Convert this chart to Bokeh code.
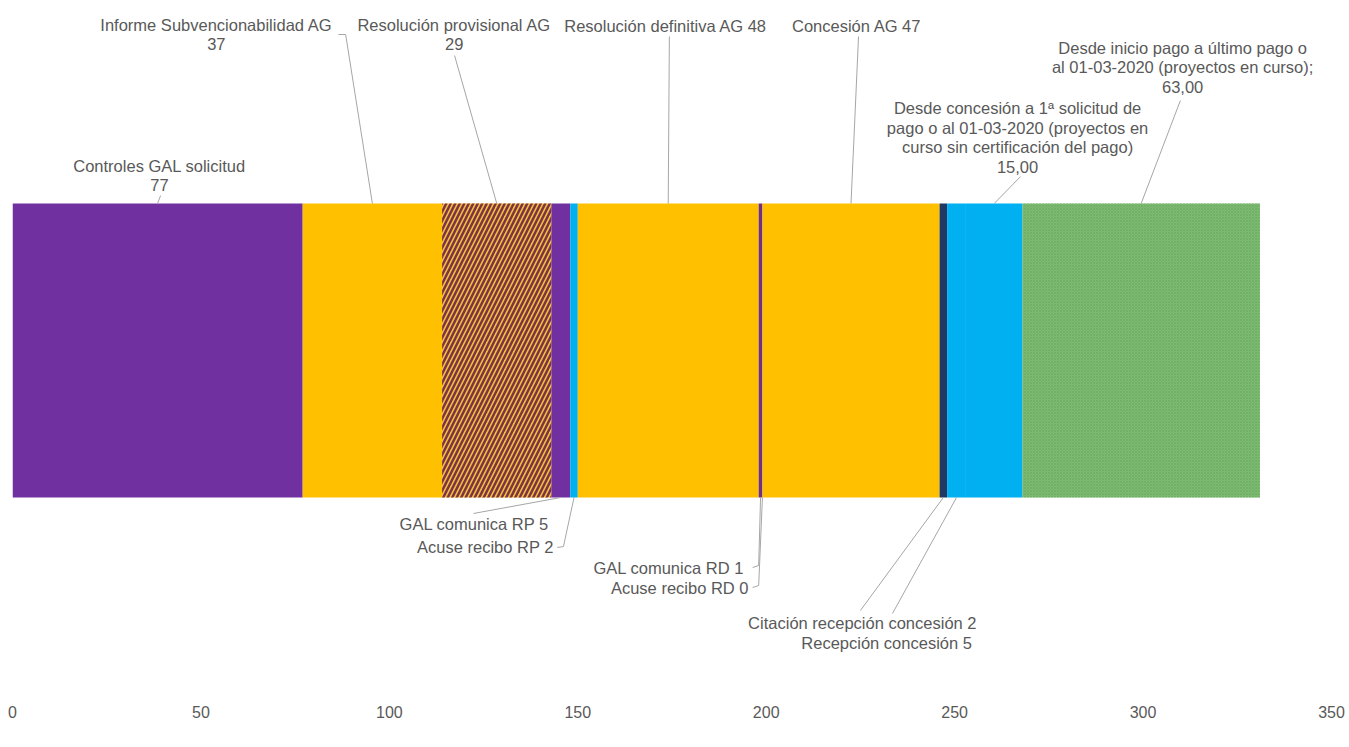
from bokeh.plotting import figure
from bokeh.models import Range1d, FixedTicker, ColumnDataSource
from bokeh.core.properties import value
from bokeh.embed import file_html
from bokeh.resources import INLINE

# ---------------- data ----------------
STAGES = [
    "Controles GAL solicitud",
    "Informe Subvencionabilidad AG",
    "Resolución provisional AG",
    "GAL comunica RP",
    "Acuse recibo RP",
    "Resolución definitiva AG",
    "GAL comunica RD",
    "Acuse recibo RD",
    "Concesión AG",
    "Citación recepción concesión",
    "Recepción concesión",
    "Desde concesión a 1ª solicitud de pago",
    "Desde inicio pago a último pago",
]
DAYS = [77, 37, 29, 5, 2, 48, 1, 0, 47, 2, 5, 15, 63]

LABELS_TOP = [
    "Controles GAL solicitud\n77",
    "Informe Subvencionabilidad AG\n37",
    "Resolución provisional AG\n29",
    "Resolución definitiva AG 48",
    "Concesión AG 47",
    "Desde concesión a 1ª solicitud de\npago o al 01-03-2020 (proyectos en\ncurso sin certificación del pago)\n15,00",
    "Desde inicio pago a último pago o\nal 01-03-2020 (proyectos en curso);\n63,00",
]
LABELS_TOP_STAGE = [0, 1, 2, 5, 8, 11, 12]

LABELS_BOTTOM = [
    "GAL  comunica RP 5",
    "Acuse recibo RP 2",
    "GAL  comunica RD 1",
    "Acuse recibo RD 0",
    "Citación recepción concesión 2",
    "Recepción concesión  5",
]
LABELS_BOTTOM_STAGE = [3, 4, 6, 7, 9, 10]

TICKS = [0, 50, 100, 150, 200, 250, 300, 350]

# ---------------- styles ----------------
PURPLE, ORANGE, LBLUE, DBLUE, GREEN = "#7030A0", "#FFC000", "#00B0F0", "#203864", "#7DBA72"
COLORS = [PURPLE, ORANGE, "#F7BE3A", PURPLE, LBLUE, ORANGE, "#73307A", LBLUE, ORANGE,
          DBLUE, LBLUE, LBLUE, GREEN]
HATCH = [" ", " ", "/", " ", " ", " ", " ", " ", " ", " ", " ", " ", "x"]
HATCH_COLOR = ["#000000"] * 13
HATCH_COLOR[2] = "#7B3445"
HATCH_COLOR[12] = "#66A65C"
HATCH_SCALE = [9] * 13
HATCH_SCALE[12] = 3
HATCH_WEIGHT = [2.5] * 13
HATCH_WEIGHT[12] = 0.5

TEXT_COLOR = "#595959"
LEADER_COLOR = "#A6A6A6"
FONT = "Liberation Sans"

# layout (page-pixel-like vertical coordinates, flipped y range)
BAR_Y, BAR_H = 350, 294
BAR_TOP, BAR_BOT = BAR_Y - BAR_H / 2, BAR_Y + BAR_H / 2

lefts, rights, acc = [], [], 0
for d in DAYS:
    lefts.append(acc)
    acc += d
    rights.append(acc)
mids = [(l + r) / 2 for l, r in zip(lefts, rights)]

src = ColumnDataSource(dict(stage=STAGES, days=DAYS, left=lefts, right=rights,
                            color=COLORS, hatch=HATCH, hcolor=HATCH_COLOR,
                            hscale=HATCH_SCALE, hweight=HATCH_WEIGHT))

p = figure(frame_width=1319, frame_height=687,
           x_range=Range1d(0, 350), y_range=Range1d(695, 8),
           output_backend="svg", toolbar_location=None,
           min_border_left=12, min_border_right=14, min_border_top=8, min_border_bottom=36,
           y_axis_type=None)
p.outline_line_color = None
p.xgrid.visible = False
p.background_fill_color = "white"

p.hbar(y=BAR_Y, height=BAR_H, left="left", right="right", fill_color="color",
       line_color=None, hatch_pattern="hatch", hatch_color="hcolor",
       hatch_scale="hscale", hatch_weight="hweight", source=src)

# label positions (layout)
top_pos = [(39.0, 175), (54.1, 34), (117.2, 34), (173.3, 25), (224.0, 25), (266.7, 137), (310.5, 67)]
top_lead = [
    [(39.3, 195)],
    [(86.5, 34), (88.4, 34)],
    [(117.3, 55)],
    [(174.3, 36)],
    [(224.5, 36)],
    [(267.5, 176)],
    [(309.9, 100)],
]
bot_pos = [(143.6, 523), (143.6, 546), (195.3, 567), (195.3, 587), (255.8, 622), (255.8, 642)]
bot_lead = [
    [(122.3, 513)],
    [(144.6, 547), (146.2, 546)],
    [(196.4, 567), (198.0, 565)],
    [(196.4, 587), (198.0, 585)],
    [(225.0, 610)],
    [(233.5, 613)],
]

xs, ys = [], []
for pts, st in zip(top_lead, LABELS_TOP_STAGE):
    xs.append([q[0] for q in pts] + [mids[st]])
    ys.append([q[1] for q in pts] + [BAR_TOP])
for pts, st in zip(bot_lead, LABELS_BOTTOM_STAGE):
    xs.append([q[0] for q in pts] + [mids[st]])
    ys.append([q[1] for q in pts] + [BAR_BOT])
p.multi_line(xs=xs, ys=ys, line_color=LEADER_COLOR, line_width=1)

p.text(x=[q[0] for q in top_pos], y=[q[1] for q in top_pos], text=LABELS_TOP,
       text_align="center", text_baseline="middle", text_font=value(FONT),
       text_font_size="16.5px", text_color=TEXT_COLOR, text_line_height=1.1)
p.text(x=[q[0] for q in bot_pos], y=[q[1] for q in bot_pos], text=LABELS_BOTTOM,
       text_align="right", text_baseline="middle", text_font=value(FONT),
       text_font_size="16.5px", text_color=TEXT_COLOR, text_line_height=1.1)

ax = p.xaxis[0]
ax.ticker = FixedTicker(ticks=TICKS)
ax.axis_line_color = None
ax.major_tick_line_color = None
ax.minor_tick_line_color = None
ax.major_label_text_font = FONT
ax.major_label_text_font_size = "16px"
ax.major_label_text_color = TEXT_COLOR
ax.major_label_standoff = 4

open("out.html", "w").write(file_html(p, INLINE))
